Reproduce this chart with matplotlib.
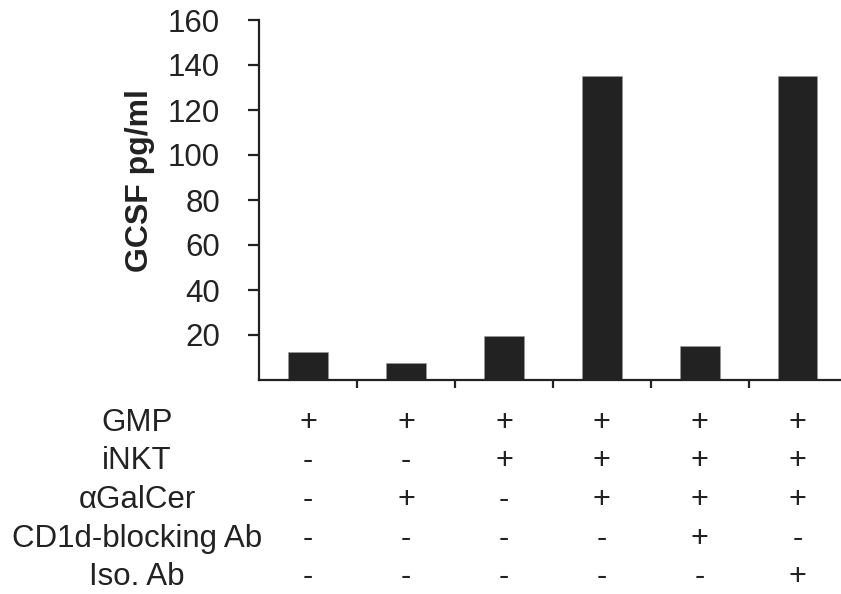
import matplotlib
matplotlib.use('Agg')
import matplotlib.pyplot as plt
from matplotlib.transforms import blended_transform_factory

# data
gcsf = [12.4, 7.5, 19.5, 135, 15, 135]
row_names = ['GMP', 'iNKT', 'αGalCer', 'CD1d-blocking Ab', 'Iso. Ab']
row_signs = [
    ['+', '+', '+', '+', '+', '+'],
    ['-', '-', '+', '+', '+', '+'],
    ['-', '+', '-', '+', '+', '+'],
    ['-', '-', '-', '-', '+', '-'],
    ['-', '-', '-', '-', '-', '+'],
]
yticks = [20, 40, 60, 80, 100, 120, 140, 160]

ink = '#222222'
plt.rcParams['font.family'] = ['Liberation Sans', 'DejaVu Sans']

fig = plt.figure(figsize=(8.41, 5.94), dpi=100)
ax = fig.add_axes([259 / 841, 1 - 380 / 594, 582 / 841, 360 / 594])

x = list(range(len(gcsf)))
ax.bar(x, gcsf, width=0.4, color=ink, edgecolor='#999999', linewidth=0.4)

ax.set_xlim(-0.5, 5.44)
ax.set_ylim(0, 160)
ax.set_yticks(yticks)
ax.set_xticks([i + 0.5 for i in range(5)])
ax.set_xticklabels([])

for s in ['top', 'right']:
    ax.spines[s].set_visible(False)
for s in ['left', 'bottom']:
    ax.spines[s].set_linewidth(1.6)
    ax.spines[s].set_color(ink)

ax.tick_params(axis='y', direction='out', length=8, width=1.6, color=ink,
               labelsize=22.5, labelcolor=ink, pad=20)
ax.tick_params(axis='x', direction='out', length=6, width=1.6, color=ink)

fig.text(140 / 841, 1 - 181 / 594, 'GCSF pg/ml', rotation=90, ha='center',
         va='center', fontsize=23, fontweight='bold', color=ink)

# condition table under the bars
tr = blended_transform_factory(ax.transData, fig.transFigure)
row_y = [423, 461, 500, 539, 577]
for name, signs, yp in zip(row_names, row_signs, row_y):
    yf = 1 - yp / 594
    fig.text(137 / 841, yf, name, ha='center', va='center', fontsize=22.5, color=ink)
    for i, sg in enumerate(signs):
        ax.text(i, yf, sg, transform=tr, ha='center', va='center',
                fontsize=22, color=ink, clip_on=False)

fig.savefig('out.png', dpi=100)
